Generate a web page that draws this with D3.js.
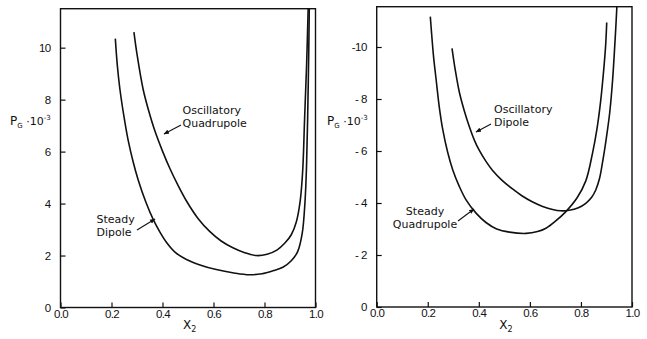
<!DOCTYPE html>
<html>
<head>
<meta charset="utf-8">
<script src="https://cdn.jsdelivr.net/npm/d3@7"></script>
<style>
  body { margin: 0; background: #fff; }
  svg { display: block; }
  .tick text { font-family: "Liberation Sans", Arial, sans-serif; font-size: 11.5px; letter-spacing: -0.6px; fill: #111; }
  .lbl { font-family: "DejaVu Sans", sans-serif; font-size: 11px; fill: #111; }
</style>
</head>
<body>
<div id="chart"></div>
<script>
// x ticks shared by both panels
const xTicks = [0, 0.2, 0.4, 0.6, 0.8, 1.0];
const xTickLabels = ['0.0', '0.2', '0.4', '0.6', '0.8', '1.0'];

// left panel: P_G positive
const leftYTicks = [0, 2, 4, 6, 8, 10];
const leftYTickLabels = ['0', '2', '4', '6', '8', '10'];

// right panel: P_G negative, plotted upward
const rightYTicks = [0, -2, -4, -6, -8, -10];
const rightYTickLabels = ['0', '- 2', '- 4', '- 6', '- 8', '-10'];

// [x2, P_G * 1e-3]
const steadyDipole = [
  [0.215, 10.35], [0.223, 9.3], [0.233, 8.4], [0.248, 7.4], [0.265, 6.45],
  [0.285, 5.6], [0.305, 4.9], [0.335, 4.05], [0.363, 3.4], [0.39, 2.9],
  [0.416, 2.5], [0.45, 2.12], [0.494, 1.85], [0.55, 1.63], [0.611, 1.46],
  [0.68, 1.33], [0.74, 1.26], [0.79, 1.3], [0.835, 1.42], [0.872, 1.55],
  [0.905, 1.8], [0.93, 2.15], [0.948, 2.86], [0.959, 4.1], [0.965, 5.5],
  [0.969, 7.2], [0.973, 9.5], [0.976, 11.8],
];

const oscQuadrupole = [
  [0.288, 10.6], [0.30, 9.75], [0.324, 8.4], [0.345, 7.6], [0.37, 6.8],
  [0.40, 6.02], [0.429, 5.35], [0.46, 4.72], [0.494, 4.1], [0.54, 3.42],
  [0.585, 2.93], [0.63, 2.56], [0.676, 2.3], [0.72, 2.12], [0.768, 2.0],
  [0.81, 2.05], [0.85, 2.22], [0.88, 2.48], [0.905, 2.8], [0.925, 3.3],
  [0.94, 4.1], [0.95, 5.3], [0.957, 7.2], [0.965, 9.3], [0.972, 11.8],
];

const steadyQuadrupole = [
  [0.210, -11.17], [0.214, -10.65], [0.223, -9.6], [0.233, -8.73], [0.245, -7.7],
  [0.259, -6.81], [0.278, -5.95], [0.298, -5.27], [0.323, -4.65], [0.350, -4.12],
  [0.39, -3.6], [0.428, -3.25], [0.47, -3.0], [0.52, -2.88], [0.585, -2.83],
  [0.63, -2.9], [0.663, -3.03], [0.70, -3.3], [0.741, -3.67], [0.785, -4.2],
  [0.819, -4.85], [0.845, -5.9], [0.862, -6.8], [0.877, -7.9], [0.889, -9.1],
  [0.897, -10.1], [0.901, -10.94],
];

const oscDipole = [
  [0.295, -9.95], [0.308, -9.1], [0.324, -8.25], [0.343, -7.55], [0.363, -6.93],
  [0.382, -6.43], [0.402, -6.02], [0.428, -5.6], [0.454, -5.25], [0.49, -4.88],
  [0.532, -4.54], [0.57, -4.27], [0.611, -4.04], [0.65, -3.87], [0.689, -3.75],
  [0.72, -3.7], [0.754, -3.72], [0.79, -3.82], [0.819, -3.99], [0.842, -4.22],
  [0.858, -4.5], [0.873, -4.95], [0.884, -5.53], [0.895, -6.2], [0.904, -6.81],
  [0.913, -7.5], [0.924, -8.73], [0.936, -10.65], [0.942, -11.8],
];

const width = 647;
const height = 339;

const svg = d3.select('#chart')
  .append('svg')
  .attr('width', width)
  .attr('height', height);

const panels = [
  {
    id: 'left',
    xRange: [60.5, 315.5],
    yDomain: [0, 11.5],
    yRange: [307.5, 8.7],
    yTicks: leftYTicks,
    yTickLabels: leftYTickLabels,
    curves: [steadyDipole, oscQuadrupole],
  },
  {
    id: 'right',
    xRange: [376.7, 632],
    yDomain: [0, -11.55],
    yRange: [307, 6.7],
    yTicks: rightYTicks,
    yTickLabels: rightYTickLabels,
    curves: [steadyQuadrupole, oscDipole],
  },
];

panels.forEach((p) => {
  const x = d3.scaleLinear().domain([0, 1]).range(p.xRange);
  const y = d3.scaleLinear().domain(p.yDomain).range(p.yRange);

  const g = svg.append('g');

  svg.append('clipPath')
    .attr('id', `clip-${p.id}`)
    .append('rect')
    .attr('x', p.xRange[0])
    .attr('y', p.yRange[1])
    .attr('width', p.xRange[1] - p.xRange[0])
    .attr('height', p.yRange[0] - p.yRange[1]);

  // x axis, ticks pointing inward
  const xAxis = g.append('g')
    .attr('transform', `translate(0, ${p.yRange[0]})`)
    .call(d3.axisBottom(x)
      .tickValues(xTicks)
      .tickFormat((d, i) => xTickLabels[i])
      .tickSizeInner(-5)
      .tickSizeOuter(0)
      .tickPadding(2));
  xAxis.select('.domain').remove();
  xAxis.selectAll('line').attr('stroke', '#111').attr('stroke-width', 1.2);

  // y axis
  const yAxis = g.append('g')
    .attr('transform', `translate(${p.xRange[0]}, 0)`)
    .call(d3.axisLeft(y)
      .tickValues(p.yTicks)
      .tickFormat((d, i) => p.yTickLabels[i])
      .tickSizeInner(-5)
      .tickSizeOuter(0)
      .tickPadding(10));
  yAxis.select('.domain').remove();
  yAxis.selectAll('line').attr('stroke', '#111').attr('stroke-width', 1.2);

  // frame
  g.append('rect')
    .attr('x', p.xRange[0])
    .attr('y', p.yRange[1])
    .attr('width', p.xRange[1] - p.xRange[0])
    .attr('height', p.yRange[0] - p.yRange[1])
    .attr('fill', 'none')
    .attr('stroke', '#111')
    .attr('stroke-width', 1.4);

  const line = d3.line()
    .x(d => x(d[0]))
    .y(d => y(d[1]))
    .curve(d3.curveCatmullRom.alpha(0.5));

  g.append('g')
    .attr('clip-path', `url(#clip-${p.id})`)
    .selectAll('path')
    .data(p.curves)
    .enter()
    .append('path')
    .attr('d', line)
    .attr('fill', 'none')
    .attr('stroke', '#111')
    .attr('stroke-width', 1.6);

  // x axis title X_2
  const xt = g.append('text')
    .attr('class', 'lbl')
    .attr('x', (p.xRange[0] + p.xRange[1]) / 2 - 5)
    .attr('y', 329)
    .style('font-size', '12px');
  xt.append('tspan').text('X');
  xt.append('tspan').attr('dy', 3).style('font-size', '8px').text('2');
});

// y axis titles: P_G · 10^-3
function yTitle(x0, y0) {
  const t = svg.append('text').attr('class', 'lbl').attr('x', x0).attr('y', y0);
  t.append('tspan').style('font-size', '12px').text('P');
  t.append('tspan').attr('dy', 3).style('font-size', '7px').text('G');
  t.append('tspan').attr('dy', -3).style('font-size', '11px').text(' ·10');
  t.append('tspan').attr('dy', -5).style('font-size', '7px').text('-3');
}
yTitle(10, 125);
yTitle(327, 125);

// curve annotations with arrows
svg.append('defs').append('marker')
  .attr('id', 'arrow')
  .attr('viewBox', '0 0 10 10')
  .attr('refX', 9)
  .attr('refY', 5)
  .attr('markerWidth', 5)
  .attr('markerHeight', 5)
  .attr('orient', 'auto')
  .append('path')
  .attr('d', 'M0,1 L10,5 L0,9 Z')
  .attr('fill', '#111');

const notes = [
  { lines: ['Oscillatory', 'Quadrupole'], x: 182.5, y: 114, anchor: 'start', from: [181, 125], to: [164, 134] },
  { lines: ['Steady', 'Dipole'], x: 96.5, y: 223, anchor: 'start', from: [137, 230], to: [155, 219] },
  { lines: ['Oscillatory', 'Dipole'], x: 494, y: 113, anchor: 'start', from: [491, 124], to: [476, 132] },
  { lines: ['Steady', 'Quadrupole'], x: 425, y: 215, anchor: 'middle', from: [458, 221], to: [474, 209] },
];

notes.forEach((n) => {
  const t = svg.append('text')
    .attr('class', 'lbl')
    .attr('x', n.x)
    .attr('y', n.y)
    .attr('text-anchor', n.anchor);
  n.lines.forEach((s, i) => {
    t.append('tspan').attr('x', n.x).attr('dy', i === 0 ? 0 : 13).text(s);
  });
  svg.append('line')
    .attr('x1', n.from[0])
    .attr('y1', n.from[1])
    .attr('x2', n.to[0])
    .attr('y2', n.to[1])
    .attr('stroke', '#111')
    .attr('stroke-width', 1.1)
    .attr('marker-end', 'url(#arrow)');
});
</script>
</body>
</html>
